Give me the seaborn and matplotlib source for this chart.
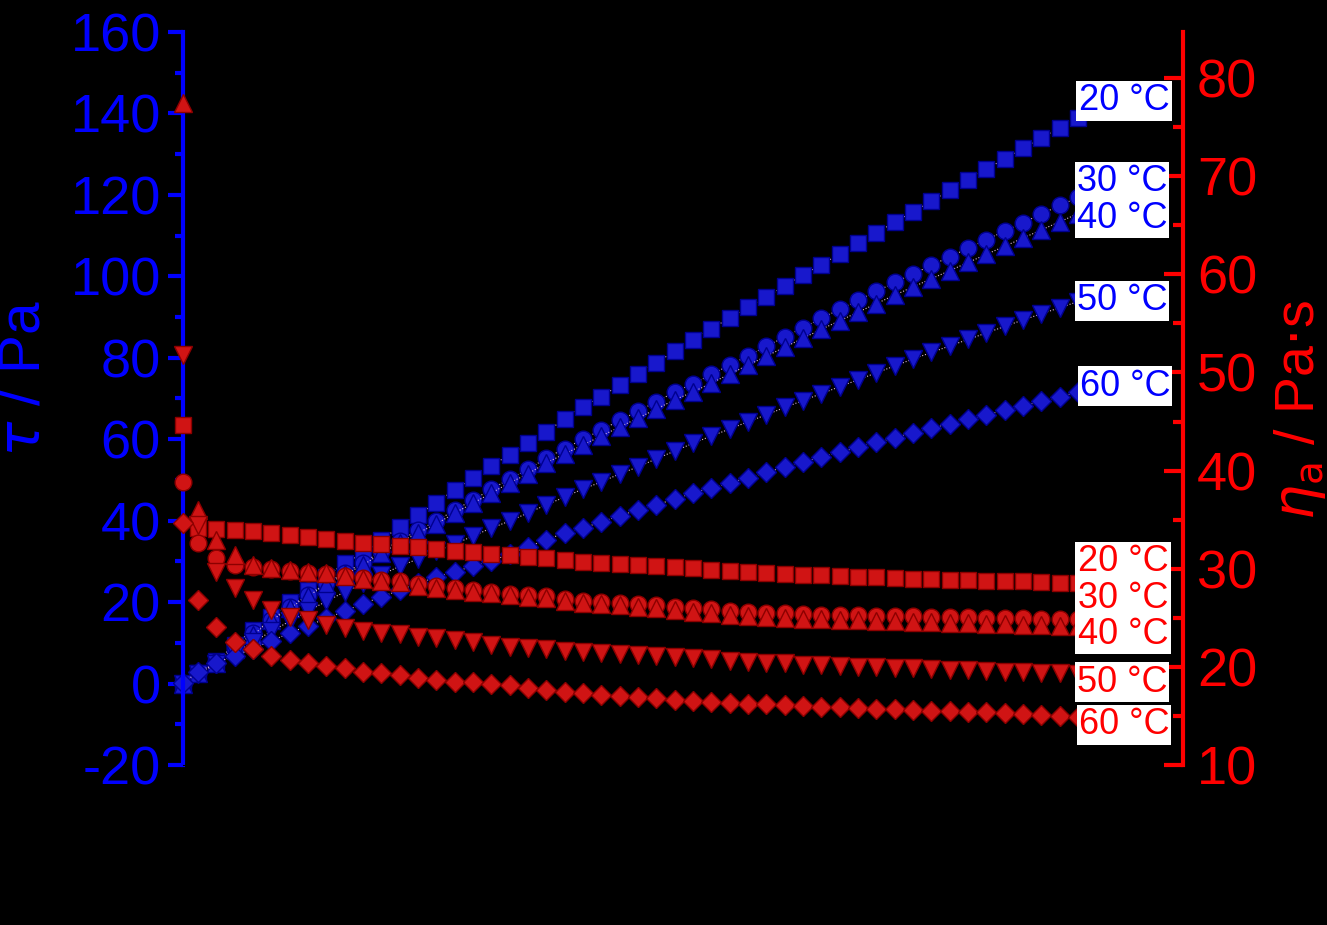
import matplotlib
matplotlib.use("Agg")
import matplotlib.pyplot as plt
import seaborn as sns
from matplotlib.ticker import MultipleLocator

sns.set_style("ticks")
plt.rcParams['font.family'] = ['Liberation Sans', 'DejaVu Sans']
plt.rcParams['mathtext.fontset'] = 'dejavusans'
plt.rcParams['axes.unicode_minus'] = False

# shear rate (x axis is drawn black on black in the reference)
shear = [0.4, 2, 4, 6, 8, 10, 12, 14, 16, 18, 20, 22, 24, 26, 28, 30, 32, 34, 36, 38, 40,
         42, 44, 46, 48, 50, 52, 54, 56, 58, 60, 62, 64, 66, 68, 70, 72, 74, 76, 78, 80,
         82, 84, 86, 88, 90, 92, 94, 96, 98, 100]

# shear stress tau / Pa (left axis)
tau_20 = [0.0, 2.5, 5.5, 9.5, 13.2, 16.4, 20.0, 23.0, 26.2, 29.6, 32.0, 35.3, 38.5, 41.4, 44.4,
          47.6, 50.5, 53.5, 56.2, 59.1, 61.8, 65.0, 68.0, 70.4, 73.4, 76.0, 78.7, 81.7, 84.4,
          87.1, 89.8, 92.5, 95.0, 97.6, 100.3, 102.9, 105.5, 108.1, 110.7, 113.3, 115.9,
          118.5, 121.1, 123.7, 126.3, 128.9, 131.5, 134.0, 136.5, 139.0, 141.5]
tau_30 = [0.0, 2.6, 5.2, 8.8, 12.3, 15.7, 18.8, 21.8, 24.6, 27.2, 29.6, 32.5, 35.1, 37.6, 39.9,
          42.6, 45.1, 47.7, 50.3, 52.6, 55.4, 57.7, 60.0, 62.3, 64.6, 66.9, 69.2, 71.6, 73.6,
          75.9, 78.2, 80.5, 82.8, 85.1, 87.4, 89.7, 91.9, 94.1, 96.3, 98.5, 100.6, 102.7,
          104.8, 106.9, 109.0, 111.1, 113.2, 115.3, 117.4, 119.4, 121.3]
tau_40 = [0.0, 2.5, 5.0, 8.5, 12.0, 15.5, 18.5, 21.5, 24.3, 26.8, 29.1, 32.0, 34.6, 37.0, 39.2,
          41.9, 44.3, 46.8, 49.3, 51.5, 54.2, 56.4, 58.6, 60.8, 63.0, 65.2, 67.4, 69.7, 71.6,
          73.8, 76.0, 78.2, 80.4, 82.6, 84.8, 87.0, 89.1, 91.2, 93.3, 95.4, 97.4, 99.4, 101.4,
          103.4, 105.4, 107.4, 109.4, 111.4, 113.4, 115.4, 117.4]
tau_50 = [0.0, 2.3, 4.8, 7.5, 10.2, 12.8, 15.3, 17.8, 20.2, 22.5, 24.6, 26.7, 28.8, 30.6, 32.5,
          34.3, 36.2, 38.2, 39.9, 41.9, 43.9, 45.8, 47.8, 49.5, 51.5, 53.2, 55.2, 57.1, 59.0,
          60.8, 62.5, 64.3, 66.0, 67.8, 69.5, 71.2, 72.9, 74.6, 76.3, 78.0, 79.7, 81.3, 82.9,
          84.5, 86.1, 87.7, 89.3, 90.8, 92.3, 93.8, 95.2]
tau_60 = [0.2, 2.8, 5.1, 6.8, 8.6, 10.5, 12.4, 14.2, 16.0, 17.8, 19.6, 21.3, 22.9, 24.6, 26.2,
          27.5, 28.8, 30.1, 31.8, 33.6, 35.3, 37.0, 38.2, 39.7, 41.2, 42.6, 43.9, 45.3, 46.8,
          48.1, 49.3, 50.5, 51.9, 53.1, 54.4, 55.6, 56.8, 58.0, 59.2, 60.4, 61.6, 62.7, 63.8,
          64.9, 66.0, 67.1, 68.2, 69.3, 70.4, 71.6, 72.8]

# apparent viscosity eta_a / Pa.s (right axis)
eta_20 = [44.6, 34.2, 34.1, 33.9, 33.8, 33.6, 33.4, 33.2, 33.0, 32.8, 32.6, 32.5, 32.3, 32.2,
          32.0, 31.8, 31.7, 31.5, 31.4, 31.2, 31.1, 30.9, 30.7, 30.6, 30.5, 30.4, 30.3, 30.2,
          30.1, 29.9, 29.8, 29.7, 29.6, 29.5, 29.4, 29.35, 29.3, 29.2, 29.15, 29.1, 29.0,
          28.95, 28.9, 28.85, 28.8, 28.75, 28.7, 28.6, 28.55, 28.5, 28.45]
eta_30 = [38.8, 32.6, 31.1, 30.4, 30.2, 30.0, 29.8, 29.6, 29.5, 29.3, 29.1, 28.9, 28.7, 28.4,
          28.2, 28.0, 27.8, 27.6, 27.45, 27.3, 27.2, 26.9, 26.75, 26.65, 26.55, 26.4, 26.3,
          26.1, 25.95, 25.85, 25.7, 25.6, 25.5, 25.45, 25.35, 25.3, 25.3, 25.25, 25.2, 25.2,
          25.15, 25.1, 25.1, 25.05, 25.0, 25.0, 24.95, 24.9, 24.9, 24.85, 24.8]
eta_40 = [77.5, 36.0, 32.9, 31.4, 30.4, 30.1, 29.9, 29.7, 29.6, 29.3, 29.0, 28.8, 28.6, 28.2,
          28.0, 27.8, 27.6, 27.5, 27.3, 27.1, 27.0, 26.7, 26.5, 26.4, 26.3, 26.1, 26.0, 25.8,
          25.6, 25.5, 25.3, 25.2, 25.1, 25.0, 24.9, 24.85, 24.8, 24.75, 24.7, 24.65, 24.6,
          24.55, 24.5, 24.45, 24.4, 24.35, 24.3, 24.25, 24.2, 24.15, 24.1]
eta_50 = [51.8, 34.5, 29.7, 28.0, 26.8, 25.8, 25.1, 24.8, 24.3, 24.0, 23.7, 23.5, 23.3, 23.0,
          22.9, 22.7, 22.5, 22.2, 22.0, 21.9, 21.8, 21.6, 21.5, 21.4, 21.3, 21.2, 21.1, 21.0,
          20.9, 20.8, 20.6, 20.5, 20.4, 20.35, 20.2, 20.15, 20.1, 20.0, 19.95, 19.9, 19.85,
          19.8, 19.7, 19.65, 19.6, 19.5, 19.45, 19.4, 19.35, 19.3, 19.2]
eta_60 = [34.7, 26.8, 24.1, 22.5, 21.8, 21.1, 20.7, 20.4, 20.1, 19.9, 19.5, 19.4, 19.2, 18.9,
          18.7, 18.5, 18.45, 18.3, 18.15, 17.85, 17.65, 17.45, 17.35, 17.15, 17.0, 16.9, 16.8,
          16.65, 16.5, 16.4, 16.3, 16.25, 16.2, 16.1, 16.0, 15.95, 15.9, 15.8, 15.75, 15.7,
          15.6, 15.55, 15.5, 15.4, 15.35, 15.3, 15.2, 15.1, 15.0, 14.9, 14.8]

temps = ['20', '30', '40', '50', '60']
markers = ['s', 'o', '^', 'v', 'D']
msizes = [11, 12, 13, 13, 10]
tau_all = [tau_20, tau_30, tau_40, tau_50, tau_60]
eta_all = [eta_20, eta_30, eta_40, eta_50, eta_60]

BLUE = '#0000ff'
RED = '#ff0000'

fig = plt.figure(figsize=(13.27, 9.25), dpi=100, facecolor='black')
ax = fig.add_axes([0.1379, 0.173, 0.7536, 0.7924])
ax.set_facecolor('black')
ax2 = ax.twinx()

for t, m, ms, vals in zip(temps, markers, msizes, tau_all):
    sns.lineplot(x=shear, y=vals, ax=ax, marker=m, markersize=ms, linestyle=':',
                 linewidth=0.8, color='#d9b3d9', markerfacecolor='#1818cc',
                 markeredgecolor='#00008f', markeredgewidth=1.0, clip_on=False)

for t, m, ms, vals in zip(temps, markers, msizes, eta_all):
    sns.lineplot(x=shear, y=vals, ax=ax2, marker=m, markersize=ms, linestyle='none',
                 markerfacecolor='#d01414', markeredgecolor='#8c0000',
                 markeredgewidth=1.0, clip_on=False)

ax.set_xlim(0.36, 109.45)
ax.set_ylim(-20, 160)
ax2.set_ylim(10, 84.7)

for s in ['top', 'right']:
    ax.spines[s].set_visible(False)
ax.spines['left'].set_color(BLUE)
ax.spines['left'].set_linewidth(3)
ax.spines['bottom'].set_color('black')
for s in ['top', 'left', 'bottom']:
    ax2.spines[s].set_visible(False)
ax2.spines['right'].set_color(RED)
ax2.spines['right'].set_linewidth(3)

ax.yaxis.set_major_locator(MultipleLocator(20))
ax.yaxis.set_minor_locator(MultipleLocator(10))
ax.tick_params(axis='y', which='major', direction='out', length=11, width=3,
               color=BLUE, labelcolor=BLUE, labelsize=39, pad=5)
ax.tick_params(axis='y', which='minor', direction='out', length=6, width=3, color=BLUE)
ax.tick_params(axis='x', colors='black', labelcolor='black', labelsize=30)

ax2.yaxis.set_major_locator(MultipleLocator(10))
ax2.yaxis.set_minor_locator(MultipleLocator(5))
ax2.tick_params(axis='y', which='major', direction='in', length=14, width=3,
                color=RED, labelcolor=RED, labelsize=39, pad=10)
ax2.tick_params(axis='y', which='minor', direction='in', length=7, width=3, color=RED)

ax.set_ylabel(r'$\tau$ / Pa', color=BLUE, fontsize=42)
ax.yaxis.set_label_coords(-0.131, 0.528)
ax2.set_ylabel(r'$\eta_\mathrm{a}$ / Pa$\cdot$s', color=RED, fontsize=40)
ax2.yaxis.set_label_coords(1.089, 0.484)
ax.set_xlabel(r'$\dot{\gamma}$ / s$^{-1}$', color='black', fontsize=34, labelpad=18)
ax.grid(False)
ax2.grid(False)

def tag(px, py, txt, col):
    fig.text(px / 1327, 1 - py / 925, txt, color=col, fontsize=26, ha='center', va='center',
             linespacing=1.05,
             bbox=dict(facecolor='white', edgecolor='none', pad=1.5))

tag(1124, 101, '20 °C', BLUE)
tag(1122, 200, '30 °C\n40 °C', BLUE)
tag(1122, 301, '50 °C', BLUE)
tag(1125, 386, '60 °C', BLUE)
tag(1123, 598, '20 °C\n30 °C\n40 °C', RED)
tag(1122, 682, '50 °C', RED)
tag(1124, 725, '60 °C', RED)

fig.savefig('out.png', dpi=100, facecolor='black')
